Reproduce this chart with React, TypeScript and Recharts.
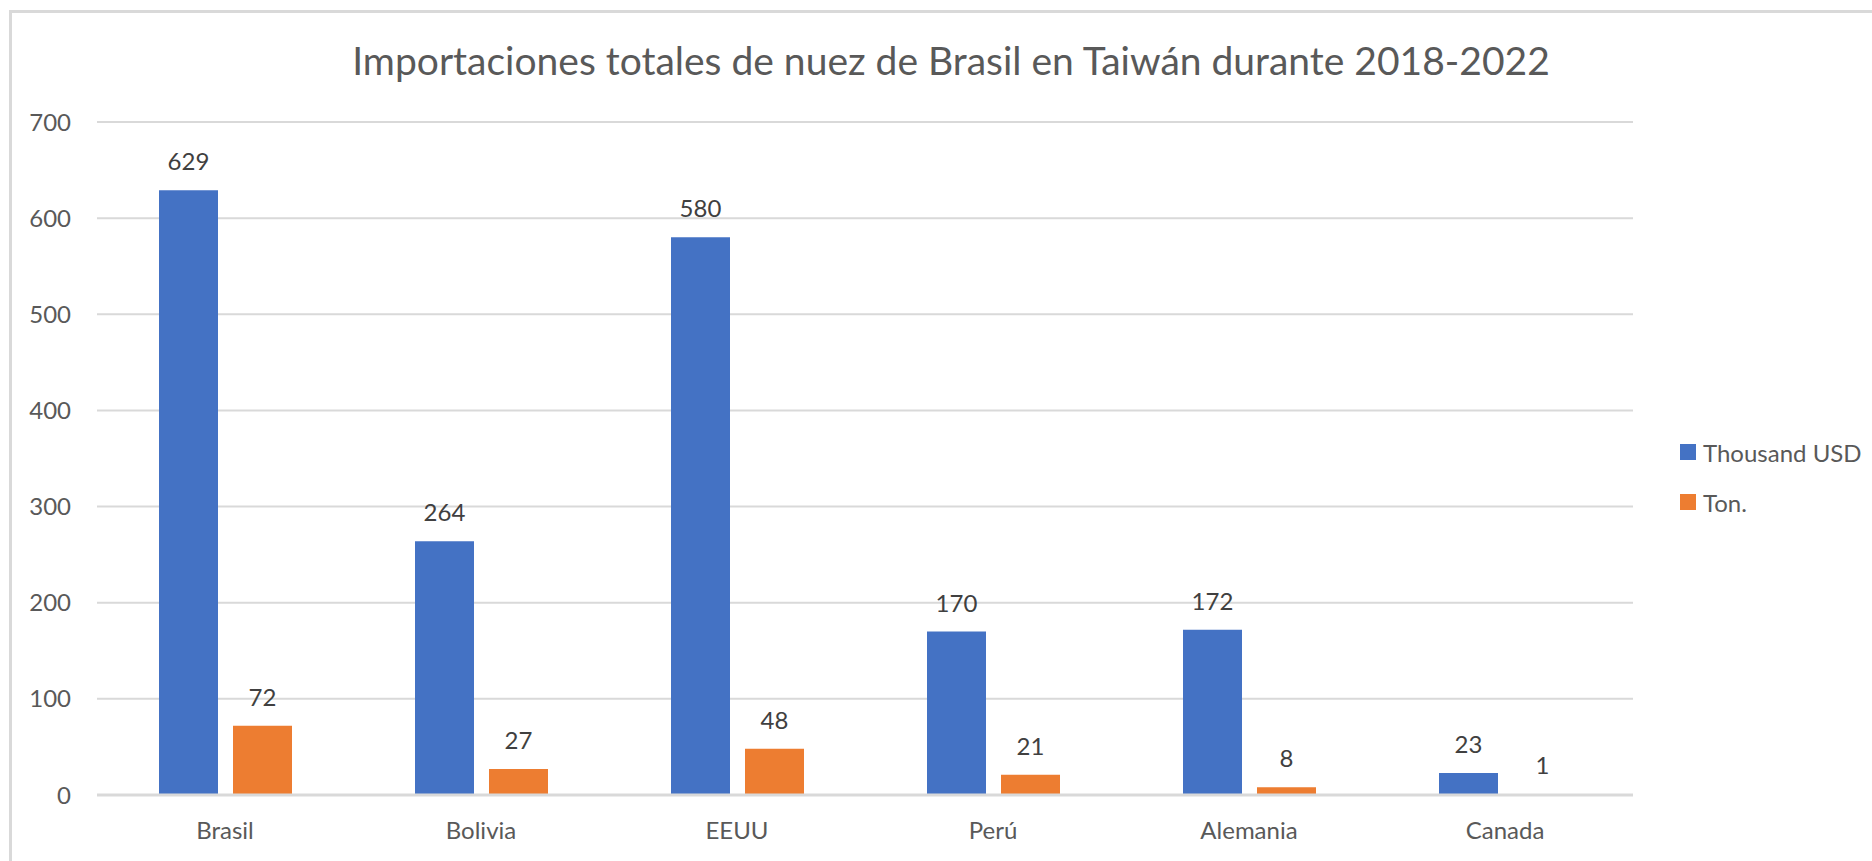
import React from 'react';
import { BarChart, Bar, XAxis, YAxis, CartesianGrid, LabelList } from 'recharts';

const countries = ['Brasil', 'Bolivia', 'EEUU', 'Perú', 'Alemania', 'Canada'];
const thousandUsd = [629, 264, 580, 170, 172, 23];
const tons = [72, 27, 48, 21, 8, 1];
const yTicks = [0, 100, 200, 300, 400, 500, 600, 700];

const title = 'Importaciones totales de nuez de Brasil en Taiwán durante 2018-2022';

const series = [
  { key: 'usd', name: 'Thousand USD', color: '#4472C4' },
  { key: 'ton', name: 'Ton.', color: '#ED7D31' },
];

const rows = countries.map((c, i) => ({ country: c, usd: thousandUsd[i], ton: tons[i] }));

const font = 'Lato, "Open Sans", sans-serif';

// legend drawn outside the chart so it doesn't eat into the plot area
function LegendBox() {
  return (
    <div style={{ position: 'absolute', left: 1680, top: 427, width: 190, fontFamily: font }}>
      {series.map((s) => (
        <div key={s.key} style={{ display: 'flex', alignItems: 'center', height: 50 }}>
          <span style={{ width: 16, height: 16, background: s.color, marginRight: 7 }} />
          <span style={{ fontSize: 24, color: '#595959' }}>{s.name}</span>
        </div>
      ))}
    </div>
  );
}

export default function App() {
  return (
    <div style={{ position: 'fixed', left: 0, top: 0, width: 1872, height: 861, overflow: 'hidden', background: '#fff', fontFamily: font }}>
      <div
        style={{
          position: 'absolute',
          left: 9,
          top: 10,
          width: 1900,
          height: 900,
          borderLeft: '3px solid #d9d9d9',
          borderTop: '3px solid #d9d9d9',
        }}
      />
      <BarChart
        width={1872}
        height={861}
        data={rows}
        margin={{ top: 122, right: 239, left: 0, bottom: 0 }}
        barCategoryGap={62}
        barGap={15}
        style={{ position: 'absolute', left: 0, top: 0 }}
      >
        <CartesianGrid vertical={false} stroke="#d9d9d9" strokeWidth={2} />
        <XAxis
          dataKey="country"
          height={66}
          tickLine={false}
          axisLine={{ stroke: '#d9d9d9', strokeWidth: 3 }}
          tick={{ fill: '#595959', fontSize: 24 }}
          tickMargin={21}
          interval={0}
        />
        <YAxis
          width={97}
          domain={[0, 700]}
          ticks={yTicks}
          axisLine={false}
          tickLine={false}
          tick={{ fill: '#595959', fontSize: 24 }}
          tickMargin={20}
        />
        {series.map((s) => (
          <Bar key={s.key} dataKey={s.key} name={s.name} fill={s.color} isAnimationActive={false}>
            <LabelList dataKey={s.key} position="top" offset={20} fill="#404040" fontSize={24} />
          </Bar>
        ))}
      </BarChart>
      <LegendBox />
      <svg width={1872} height={861} style={{ position: 'absolute', left: 0, top: 0, pointerEvents: 'none' }}>
        <text x={951} y={75} textAnchor="middle" fontSize={39} fill="#595959" fontFamily={font}>
          {title}
        </text>
      </svg>
    </div>
  );
}
